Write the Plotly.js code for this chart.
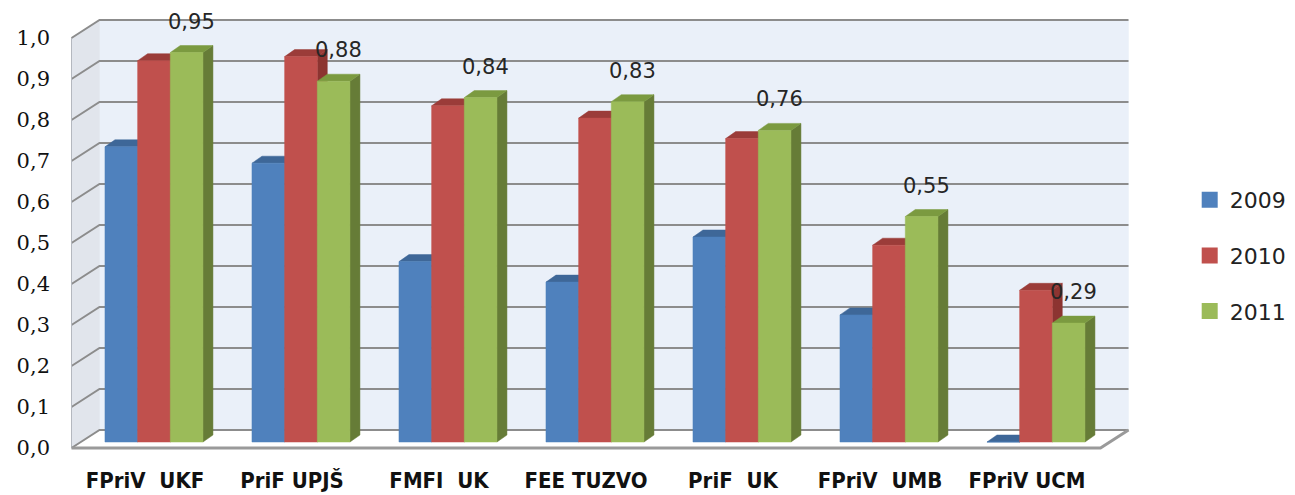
<!DOCTYPE html>
<html><head><meta charset="utf-8">
<script src="https://cdn.plot.ly/plotly-3.0.1.min.js"></script>
<style>html,body{margin:0;padding:0;background:#fff}#chart{width:1295px;height:495px}</style>
</head><body><div id="chart"></div>
<script>
// ---------- data ----------
const categories = ['FPriV  UKF', 'PriF UPJŠ', 'FMFI  UK', 'FEE TUZVO', 'PriF  UK', 'FPriV  UMB', 'FPriV UCM'];
const years = ['2009', '2010', '2011'];
const values2009 = [0.72, 0.68, 0.44, 0.39, 0.50, 0.31, 0.00];
const values2010 = [0.93, 0.94, 0.82, 0.79, 0.74, 0.48, 0.37];
const values2011 = [0.95, 0.88, 0.84, 0.83, 0.76, 0.55, 0.29];
const yTicks = [0, 0.1, 0.2, 0.3, 0.4, 0.5, 0.6, 0.7, 0.8, 0.9, 1.0];

// ---------- geometry / style (not data) ----------
const series = [
  {name: years[0], vals: values2009, front: '#4F81BD', top: '#3E6798', side: '#385D8A'},
  {name: years[1], vals: values2010, front: '#C0504D', top: '#9B3C39', side: '#8C3431'},
  {name: years[2], vals: values2011, front: '#9BBB59', top: '#7B9A40', side: '#667C37'}
];
const N = categories.length;
const XMIN = -0.5782, XMAX = 6.9048;          // x range of plot area
const YMIN = -0.04146, YMAX = 1.09268;        // y range of plot area
const FLOOR_PAD = 0.50;                        // floor extends this far beyond first/last category
const DXW = 0.1905, DYW = 0.0439;              // depth of walls/floor
const BO = 0.0146;                             // bars sit a bit behind the front plane
const SHIFT = 0.061;                           // horizontal shift of bars due to depth
const W = 0.2222;                              // bar width
const DDX = 0.068, DDY = 0.0171;               // bar depth
const GRID = '#8C8C8C';

function addPoly(xs, ys, pts) {
  pts.forEach(p => { xs.push(p[0]); ys.push(p[1]); });
  xs.push(pts[0][0]); ys.push(pts[0][1]);
  xs.push(null); ys.push(null);
}
function polyTrace(pts, fill, line, lw) {
  const xs = [], ys = [];
  addPoly(xs, ys, pts);
  return {type: 'scatter', mode: 'lines', x: xs, y: ys, fill: 'toself', fillcolor: fill,
          line: {color: line || fill, width: lw === undefined ? 0.5 : lw}, showlegend: false, hoverinfo: 'skip'};
}

const xL = -FLOOR_PAD, xR = (N - 1) + FLOOR_PAD;
const traces = [];
// back wall
traces.push(polyTrace([[xL + DXW, DYW], [xR + DXW, DYW], [xR + DXW, 1 + DYW], [xL + DXW, 1 + DYW]], '#EAF0F9'));
// left wall
traces.push(polyTrace([[xL, 0], [xL, 1], [xL + DXW, 1 + DYW], [xL + DXW, DYW]], '#E1E5EC'));
// floor
traces.push(polyTrace([[xL, 0], [xR, 0], [xR + DXW, DYW], [xL + DXW, DYW]], '#FFFFFF'));

// gridlines on back wall and left wall
(function () {
  const gx = [], gy = [];
  yTicks.forEach(v => {
    gx.push(xL, xL + DXW, xR + DXW, null);
    gy.push(v, v + DYW, v + DYW, null);
  });
  traces.push({type: 'scatter', mode: 'lines', x: gx, y: gy, line: {color: GRID, width: 2},
               showlegend: false, hoverinfo: 'skip'});
})();
// left wall front edge
traces.push({type: 'scatter', mode: 'lines', x: [xL, xL], y: [0, 1], line: {color: '#B4B8BF', width: 1},
             showlegend: false, hoverinfo: 'skip'});
// floor front & right edges
traces.push({type: 'scatter', mode: 'lines', x: [xL, xR, xR + DXW], y: [0, 0, DYW],
             line: {color: '#9A9A9A', width: 3}, showlegend: false, hoverinfo: 'skip'});

// bars
series.forEach((s, j) => {
  const side = {x: [], y: []}, top = {x: [], y: []}, front = {x: [], y: []};
  s.vals.forEach((v, i) => {
    const xl = i + SHIFT + (j - 1.5) * W, xr = xl + W;
    const y0 = BO, y1 = BO + v;
    addPoly(side.x, side.y, [[xr, y0], [xr, y1], [xr + DDX, y1 + DDY], [xr + DDX, y0 + DDY]]);
    addPoly(top.x, top.y, [[xl, y1], [xr, y1], [xr + DDX, y1 + DDY], [xl + DDX, y1 + DDY]]);
    addPoly(front.x, front.y, [[xl, y0], [xr, y0], [xr, y1], [xl, y1]]);
  });
  [[side, s.side], [top, s.top], [front, s.front]].forEach(([d, c]) => {
    traces.push({type: 'scatter', mode: 'lines', x: d.x, y: d.y, fill: 'toself', fillcolor: c,
                 line: {color: c, width: 0.5}, showlegend: false, hoverinfo: 'skip'});
  });
});

// legend entries
series.forEach((s, j) => {
  traces.push({type: 'scatter', mode: 'markers', x: [null], y: [null], name: s.name,
               legendgroup: 'g' + j, marker: {symbol: 'square', size: 16, color: s.front},
               hoverinfo: 'skip'});
});

// data labels for 2011
const annotations = values2011.map((v, i) => ({
  x: i + SHIFT + W + DDX / 2, y: BO + v + DDY, xref: 'x', yref: 'y',
  text: v.toFixed(2).replace('.', ','), showarrow: false, yanchor: 'bottom', yshift: 10,
  font: {family: 'DejaVu Sans, sans-serif', size: 21, color: '#262626'}
}));

const layout = {
  width: 1295, height: 495,
  margin: {l: 60, r: 135, t: 0, b: 30},
  paper_bgcolor: '#FFFFFF', plot_bgcolor: 'rgba(0,0,0,0)',
  separators: ', ',
  showlegend: true,
  hovermode: false,
  xaxis: {
    range: [XMIN, XMAX], tickmode: 'array',
    tickvals: categories.map((_, i) => i),
    ticktext: categories.map(c => c.replace(/  /g, '\u00a0 ')),
    showgrid: false, zeroline: false, showline: false, ticks: '',
    tickfont: {family: 'Liberation Sans Narrow, DejaVu Sans Condensed, Lato, sans-serif', size: 22, color: '#111111', weight: 'bold'},
    fixedrange: true
  },
  yaxis: {
    range: [YMIN, YMAX], tickmode: 'array', tickvals: yTicks, tickformat: '.1f',
    showgrid: false, zeroline: false, showline: false, ticks: '',
    ticklabelstandoff: 9,
    tickfont: {family: 'DejaVu Serif, serif', size: 21, color: '#111111'},
    fixedrange: true
  },
  legend: {
    x: 1.027, y: 0.615, xanchor: 'left', yanchor: 'top',
    font: {family: 'DejaVu Sans, sans-serif', size: 22, color: '#222'},
    tracegroupgap: 24, bgcolor: 'rgba(0,0,0,0)', borderwidth: 0
  },
  annotations: annotations
};

Plotly.newPlot('chart', traces, layout, {staticPlot: true, displayModeBar: false});
</script>
</body></html>
